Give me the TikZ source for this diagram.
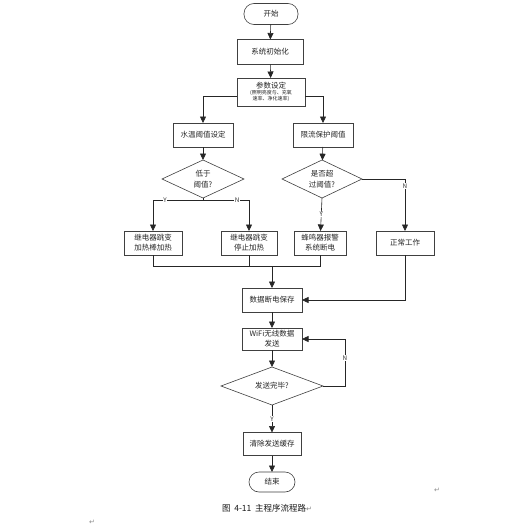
\documentclass[tikz,border=0pt]{standalone}
\usepackage{fontspec}
\setmainfont{Noto Sans CJK SC}
\newfontfamily\dejavufnt{DejaVu Sans}
\usetikzlibrary{arrows.meta,shapes.geometric,calc}
\begin{document}
\begin{tikzpicture}[x=1pt,y=-1pt,
  every node/.style={inner sep=0pt,outer sep=0pt},
  base/.style={draw=black!75,line width=0.6pt,fill=white,align=center,font=\fontsize{7.5}{10}\selectfont,text=black!85},
  box/.style={base,rectangle},
  term/.style={base,rounded corners=10pt},
  ln/.style={draw=black!85,line width=0.6pt},
  arr/.style={ln,-{Triangle[length=6.5pt,width=6pt]}},
  yn/.style={fill=white,font=\fontsize{6.3}{7}\selectfont,text=black!80,inner sep=0.6pt},
  pmark/.style={font=\dejavufnt\fontsize{7}{8}\selectfont,text=black!45}
]
\useasboundingbox[fill=white] (0,0) rectangle (520,530);

\node[term,minimum width=54pt,minimum height=21pt] (start) at (271,14) {开始};
\node[box,minimum width=66pt,minimum height=25pt] (init) at (270,52) {系统初始化};
\node[box,minimum width=68pt,minimum height=28pt,font=\fontsize{4.8}{6}\selectfont] (param) at (271,92)
  {\fontsize{7.5}{9}\selectfont 参数设定\\[-0.5pt]\fontsize{5}{6}\selectfont (照明亮度与、充氧\\\fontsize{5}{6}\selectfont 速率、净化速率)};
\node[box,minimum width=60pt,minimum height=24pt] (water) at (203,135) {水温阈值设定};
\node[box,minimum width=60pt,minimum height=24pt] (limit) at (323,135) {限流保护阈值};
\node[base,diamond,minimum width=82pt,minimum height=38pt] (d1) at (203,179) {};
\node[align=center,font=\fontsize{7.5}{10.5}\selectfont,text=black!85] (t1) at (203,179) {低于\\阈值?};
\node[base,diamond,minimum width=80pt,minimum height=38pt] (d2) at (322,179) {};
\node[align=center,font=\fontsize{7.5}{10.5}\selectfont,text=black!85] (t2) at (322,179) {是否超\\过阈值?};
\node[box,minimum width=58pt,minimum height=24pt] (r1) at (153,243) {继电器跳变\\加热棒加热};
\node[box,minimum width=56pt,minimum height=24pt] (r2) at (249,243) {继电器跳变\\停止加热};
\node[box,minimum width=52pt,minimum height=24pt] (r3) at (320,243) {蜂鸣器报警\\系统断电};
\node[box,minimum width=58pt,minimum height=24pt] (normal) at (405,243) {正常工作};
\node[box,minimum width=60pt,minimum height=24pt] (save) at (272,300) {数据断电保存};
\node[box,minimum width=60pt,minimum height=22pt] (wifi) at (272,339) {WiFi无线数据\\发送};
\node[base,diamond,minimum width=102pt,minimum height=38pt] (d3) at (272,386) {};
\node[font=\fontsize{7.5}{10}\selectfont,text=black!85] (t3) at (272,386) {发送完毕?};
\node[box,minimum width=58pt,minimum height=23pt] (clear) at (272,444) {清除发送缓存};
\node[term,minimum width=46pt,minimum height=20pt] (end) at (272,482) {结束};

% connectors
\draw[arr] (start) -- (init);
\draw[arr] (init) -- (param);
\draw[arr] ([yshift=-4pt]param.west) -| (water);
\draw[arr] ([yshift=-4pt]param.east) -| (limit);
\draw[arr] (water) -- (d1);
\draw[arr] (limit) -- (d2);
\coordinate (j1) at (203,200);
\draw[ln] (d1.south) -- (j1);
\draw[arr] (j1) -| node[yn,pos=0.38] {Y} (r1);
\draw[arr] (j1) -| node[yn,pos=0.37] {N} (r2);
\draw[arr] (d2.south) -- node[yn] {Y} (r3);
\draw[arr] (d2.east) -| node[yn,pos=0.57] {N} (normal);
\coordinate (mrg) at (272,266);
\draw[ln] (r1.south) |- (r3.south |- mrg) -- (r3.south);
\draw[ln] (r2.south) -- (r2.south |- mrg);
\draw[arr] (mrg) -- (save);
\draw[arr] (normal.south) |- (save.east);
\draw[arr] (save) -- (wifi);
\draw[arr] (wifi) -- (d3);
\coordinate (loop) at (345,386);
\draw[arr] (d3.east) -- (loop) |- node[yn,pos=0.3] {N} (wifi.east);
\draw[arr] (d3.south) -- node[yn] {Y} (clear);
\draw[arr] (clear) -- (end);

% caption and marks
\node[anchor=west,font=\fontsize{8.5}{10}\selectfont,text=black!90] (cap) at (222,508) {图\ \ 4-11\ \ 主程序流程路{\dejavufnt\fontsize{7}{8}\selectfont\color{black!50}↵}};
\node[pmark] (m1) at (437,490) {↵};
\node[pmark] (m2) at (92,522) {↵};
\end{tikzpicture}
\end{document}
